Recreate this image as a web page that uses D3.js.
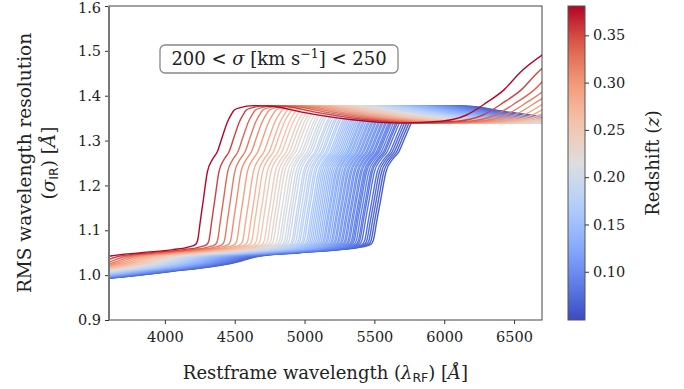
<!DOCTYPE html>
<html>
<head>
<meta charset="utf-8">
<script src="https://cdn.jsdelivr.net/npm/d3@7"></script>
<style>
  body { margin: 0; background: #fff; }
  svg { display: block; font-family: "DejaVu Serif", serif; }
</style>
</head>
<body>
<script>
// one line per redshift bin (read from step positions / colours)
const redshifts = [0.380, 0.354, 0.335, 0.320, 0.307, 0.294, 0.282, 0.272, 0.264, 0.255,
  0.248, 0.240, 0.234, 0.228, 0.223, 0.217, 0.212, 0.208, 0.203, 0.199, 0.195, 0.190,
  0.187, 0.183, 0.179, 0.176, 0.172, 0.169, 0.165, 0.162, 0.159, 0.156, 0.153, 0.150,
  0.147, 0.144, 0.141, 0.138, 0.136, 0.133, 0.131, 0.128, 0.125, 0.123, 0.120, 0.118,
  0.115, 0.113, 0.110, 0.108, 0.105, 0.103, 0.100, 0.098, 0.095, 0.093, 0.091, 0.088,
  0.085, 0.083, 0.080, 0.076, 0.073, 0.070, 0.067, 0.064];

const obsWave = [3700, 3830, 4300, 4790, 4970, 5290, 5600, 5760, 5821, 5842, 5870, 5900,
  5940, 5990, 6038, 6090, 6137, 6175, 6206, 6256, 6400, 6600, 6860, 7350, 7850, 8250,
  8500, 8700, 8870, 9030, 9250];
const obsRms = [0.99, 0.993, 1.008, 1.028, 1.042, 1.05, 1.057, 1.063, 1.068, 1.076, 1.12, 1.168,
  1.23, 1.258, 1.275, 1.31, 1.341, 1.358, 1.368, 1.373, 1.378, 1.376, 1.364, 1.347, 1.339, 1.343,
  1.357, 1.385, 1.413, 1.452, 1.491];

const xTicks = [4000, 4500, 5000, 5500, 6000, 6500];
const yTicks = [0.9, 1.0, 1.1, 1.2, 1.3, 1.4, 1.5, 1.6];
const zTicks = [0.10, 0.15, 0.20, 0.25, 0.30, 0.35];
const zRange = [0.049, 0.381];
const coolwarm = ["#3b4cc0", "#6282ea", "#8db0fe", "#b8d0f9", "#dddddd",
  "#f5c4ac", "#f49a7b", "#de604d", "#b40426"];

const width = 684, height = 389;
const m = { left: 109, right: 542, top: 6, bottom: 320 };

const svg = d3.select("body").append("svg")
  .attr("width", width).attr("height", height);

const x = d3.scaleLinear().domain([3600, 6700]).range([m.left, m.right]);
const y = d3.scaleLinear().domain([0.9, 1.6]).range([m.bottom, m.top]);
const colour = d3.scaleLinear()
  .domain(coolwarm.map((c, i) => zRange[0] + i * (zRange[1] - zRange[0]) / (coolwarm.length - 1)))
  .range(coolwarm)
  .interpolate(d3.interpolateRgb);

svg.append("clipPath").attr("id", "plot")
  .append("rect")
  .attr("x", m.left).attr("y", m.top)
  .attr("width", m.right - m.left).attr("height", m.bottom - m.top);

const template = obsWave.map((w, i) => ({ w, v: obsRms[i] }));
const line = d3.line()
  .x((d) => d.x)
  .y((d) => y(d.v))
  .curve(d3.curveMonotoneX);

const lines = redshifts.slice().sort((a, b) => a - b);
svg.append("g").attr("clip-path", "url(#plot)")
  .selectAll("path")
  .data(lines)
  .join("path")
  .attr("fill", "none")
  .attr("stroke", (z) => colour(z))
  .attr("stroke-width", 1.4)
  .attr("d", (z) => line(template.map((d) => ({ x: x(d.w / (1 + z)), v: d.v }))));

// axes
const xAxis = svg.append("g")
  .attr("transform", `translate(0,${m.bottom})`)
  .call(d3.axisBottom(x).tickValues(xTicks).tickSize(4).tickPadding(8).tickFormat(d3.format("d")));
const yAxis = svg.append("g")
  .attr("transform", `translate(${m.left},0)`)
  .call(d3.axisLeft(y).tickValues(yTicks).tickSize(4).tickPadding(4).tickFormat(d3.format(".1f")));
[xAxis, yAxis].forEach((g) => {
  g.select(".domain").remove();
  g.selectAll("text").attr("font-family", "DejaVu Serif").attr("font-size", 14.5).attr("fill", "#222");
  g.selectAll("line").attr("stroke", "#333");
});
yAxis.selectAll(".tick").filter((d) => d === 1.6).select("text").attr("dy", "0.45em");

svg.append("rect")
  .attr("x", m.left).attr("y", m.top)
  .attr("width", m.right - m.left).attr("height", m.bottom - m.top)
  .attr("fill", "none").attr("stroke", "#444").attr("stroke-width", 1);
svg.append("line")
  .attr("x1", m.left).attr("x2", m.left).attr("y1", m.top).attr("y2", m.bottom)
  .attr("stroke", "#777").attr("stroke-width", 2);

// axis labels
const xl = svg.append("text")
  .attr("x", (m.left + m.right) / 2).attr("y", 379)
  .attr("text-anchor", "middle").attr("font-size", 18).attr("fill", "#222");
xl.append("tspan").text("Restframe wavelength (");
xl.append("tspan").attr("font-style", "italic").text("λ");
xl.append("tspan").attr("font-family", "DejaVu Sans").attr("font-size", 12.5).attr("dy", 3).text("RF");
xl.append("tspan").attr("dy", -3).text(") [");
xl.append("tspan").attr("font-style", "italic").text("Å");
xl.append("tspan").text("]");

const yc = (m.top + m.bottom) / 2;
svg.append("text")
  .attr("transform", `translate(31,${yc}) rotate(-90)`)
  .attr("text-anchor", "middle").attr("font-size", 18.5).attr("fill", "#222")
  .text("RMS wavelength resolution");
const yl = svg.append("text")
  .attr("transform", `translate(55,${yc}) rotate(-90)`)
  .attr("text-anchor", "middle").attr("font-size", 18.5).attr("fill", "#222");
yl.append("tspan").text("(");
yl.append("tspan").attr("font-style", "italic").text("σ");
yl.append("tspan").attr("font-family", "DejaVu Sans").attr("font-size", 12.5).attr("dy", 3).text("IR");
yl.append("tspan").attr("dy", -3).text(") [");
yl.append("tspan").attr("font-style", "italic").text("Å");
yl.append("tspan").text("]");

// annotation box
svg.append("rect")
  .attr("x", 160).attr("y", 45).attr("width", 238).attr("height", 28)
  .attr("rx", 5).attr("fill", "#fff").attr("stroke", "#888").attr("stroke-width", 1.3);
const ann = svg.append("text")
  .attr("x", 279).attr("y", 65)
  .attr("text-anchor", "middle").attr("font-size", 18).attr("fill", "#222");
ann.append("tspan").text("200 < ");
ann.append("tspan").attr("font-style", "italic").text("σ");
ann.append("tspan").text(" [km s");
ann.append("tspan").attr("font-size", 12.5).attr("dy", -7).text("−1");
ann.append("tspan").attr("dy", 7).text("] < 250");

// colour bar
const cb = { x: 568, w: 17 };
const cy = d3.scaleLinear().domain(zRange).range([m.bottom, m.top]);
const grad = svg.append("defs").append("linearGradient")
  .attr("id", "cbar").attr("x1", 0).attr("y1", 1).attr("x2", 0).attr("y2", 0);
d3.range(0, 1.0001, 0.05).forEach((t) => {
  grad.append("stop").attr("offset", t)
    .attr("stop-color", colour(zRange[0] + t * (zRange[1] - zRange[0])));
});
svg.append("rect")
  .attr("x", cb.x).attr("y", m.top)
  .attr("width", cb.w).attr("height", m.bottom - m.top)
  .attr("fill", "url(#cbar)").attr("stroke", "#555").attr("stroke-width", 1);
const cAxis = svg.append("g")
  .attr("transform", `translate(${cb.x + cb.w},0)`)
  .call(d3.axisRight(cy).tickValues(zTicks).tickSize(4).tickPadding(4).tickFormat(d3.format(".2f")));
cAxis.select(".domain").remove();
cAxis.selectAll("text").attr("font-family", "DejaVu Serif").attr("font-size", 14.5).attr("fill", "#222");
cAxis.selectAll("line").attr("stroke", "#333");

const cl = svg.append("text")
  .attr("transform", `translate(659,${yc}) rotate(-90)`)
  .attr("text-anchor", "middle").attr("font-size", 18).attr("fill", "#222");
cl.append("tspan").text("Redshift (");
cl.append("tspan").attr("font-style", "italic").text("z");
cl.append("tspan").text(")");
</script>
</body>
</html>
